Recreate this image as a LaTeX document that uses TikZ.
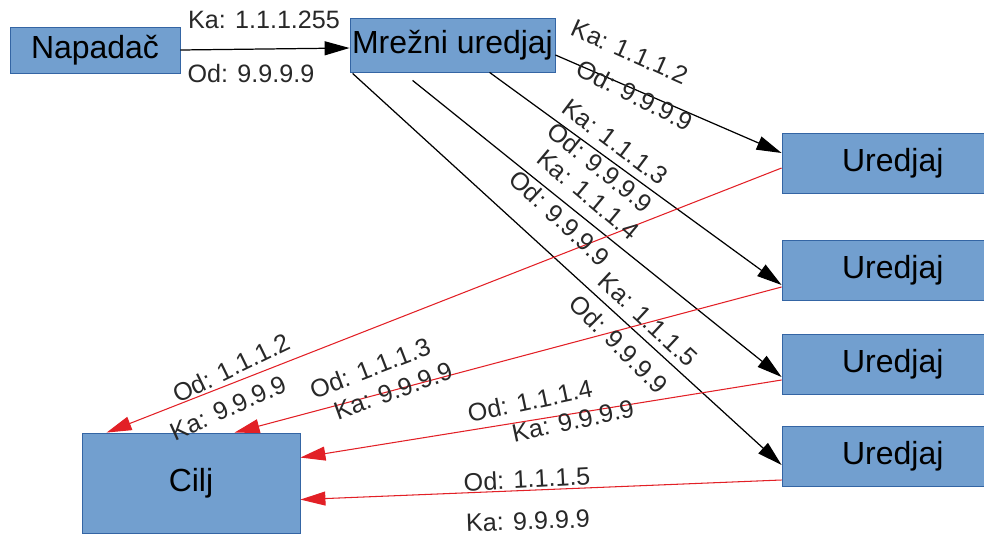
\documentclass[tikz,border=0pt]{standalone}
\usepackage{fontspec}
\setmainfont{Liberation Sans}
\usepackage{xcolor}
\usepackage{tikz}
\usetikzlibrary{calc, arrows.meta, positioning}

\definecolor{plava}{RGB}{114,159,207}
\definecolor{rub}{RGB}{52,101,164}
\definecolor{crvena}{RGB}{226,32,38}
\definecolor{sivo}{RGB}{40,40,40}

\begin{document}
\begin{tikzpicture}[x=0.02cm, y=-0.02cm,
    kutija/.style={rectangle, draw=rub, fill=plava, line width=0.5pt,
        inner sep=0pt, font=\fontsize{18.2}{20}\selectfont},
    paket/.style={line width=0.7pt, -{Triangle[length=0.5cm, width=0.28cm]}},
    odgovor/.style={crvena, line width=0.6pt, -{Triangle[length=0.5cm, width=0.28cm]}},
    oznaka/.style={text=sivo, inner sep=0pt, font=\fontsize{14.3}{16}\selectfont}]

    % okvir slike
    \useasboundingbox (0,0) rectangle (984,537);

    % =================================================================
    % 1. KUTIJE (NAPADAČ, MREŽNI UREDJAJ, UREDJAJI, CILJ)
    % =================================================================
    \node[kutija, minimum width=3.4cm, minimum height=0.92cm] (napadac) at (95,50) {Napadač};
    \node[kutija, minimum width=4.1cm, minimum height=1.08cm] (mreza) at (452.5,45) {Mrežni uredjaj};

    \node[kutija, minimum width=4.08cm, minimum height=1.2cm] (u1) at (884,163) {\hspace{10pt}Uredjaj};
    \node[kutija, minimum width=4.08cm, minimum height=1.2cm] (u2) at (884,270) {\hspace{10pt}Uredjaj};
    \node[kutija, minimum width=4.08cm, minimum height=1.2cm] (u3) at (884,364) {\hspace{10pt}Uredjaj};
    \node[kutija, minimum width=4.08cm, minimum height=1.2cm] (u4) at (884,456.5) {\hspace{10pt}Uredjaj};

    \node[kutija, minimum width=4.36cm, minimum height=2cm] (cilj) at (191,483) {Cilj};

    % =================================================================
    % 2. PAKETI OD NAPADAČA (CRNE STRELICE)
    % =================================================================
    \draw[paket] (napadac.east) -- ($(mreza.west)+(0,3)$);

    \draw[paket] ($(mreza.east)+(0,10)$) -- ($(u1.west)+(0,-10)$);
    \draw[paket] ($(mreza.south west)+(140,0)$) -- ($(u2.west)+(0,15)$);
    \draw[paket] ($(mreza.south west)+(63,8)$) -- ($(u3.west)+(0,13)$);
    \draw[paket] ($(mreza.south west)+(3,1)$) -- ($(u4.west)+(0,8.5)$);

    % =================================================================
    % 3. ODGOVORI PREMA CILJU (CRVENE STRELICE)
    % =================================================================
    \draw[odgovor] ($(u1.west)+(0,5)$) -- ($(cilj.north west)+(25,0)$);
    \draw[odgovor] ($(u2.west)+(0,17)$) -- ($(cilj.north west)+(153,0)$);
    \draw[odgovor] ($(u3.west)+(0,16)$) -- ($(cilj.north east)+(0,25)$);
    \draw[odgovor] ($(u4.west)+(0,23.5)$) -- ($(cilj.north east)+(0,67)$);

    % =================================================================
    % 4. ADRESE NA STRELICAMA
    % =================================================================
    % napadač -> mrežni uredjaj
    \node[oznaka] (n1) at (264,20) {Ka: 1.1.1.255};
    \node[oznaka] (n2) at (251,74) {Od: 9.9.9.9};

    % mrežni uredjaj -> uredjaji
    \node[oznaka, rotate=-24] (m1) at (630,52) {Ka: 1.1.1.2};
    \node[oznaka, rotate=-27] (m2) at (635,95) {Od: 9.9.9.9};
    \node[oznaka, rotate=-37] (m3) at (615,142) {Ka: 1.1.1.3};
    \node[oznaka, rotate=-39] (m4) at (600,167) {Od: 9.9.9.9};
    \node[oznaka, rotate=-40] (m5) at (588,195) {Ka: 1.1.1.4};
    \node[oznaka, rotate=-43] (m6) at (560,218) {Od: 9.9.9.9};
    \node[oznaka, rotate=-43] (m7) at (648,320) {Ka: 1.1.1.5};
    \node[oznaka, rotate=-45] (m8) at (619,344) {Od: 9.9.9.9};

    % uredjaji -> cilj
    \node[oznaka, rotate=26] (c1) at (231,368) {Od: 1.1.1.2};
    \node[oznaka, rotate=24] (c2) at (228,408) {Ka: 9.9.9.9};
    \node[oznaka, rotate=21] (c3) at (370,368) {Od: 1.1.1.3};
    \node[oznaka, rotate=20] (c4) at (393,391) {Ka: 9.9.9.9};
    \node[oznaka, rotate=12] (c5) at (530,401) {Od: 1.1.1.4};
    \node[oznaka, rotate=12] (c6) at (573,421) {Ka: 9.9.9.9};
    \node[oznaka, rotate=3] (c7) at (527,479) {Od: 1.1.1.5};
    \node[oznaka, rotate=2] (c8) at (528,521) {Ka: 9.9.9.9};

\end{tikzpicture}
\end{document}
